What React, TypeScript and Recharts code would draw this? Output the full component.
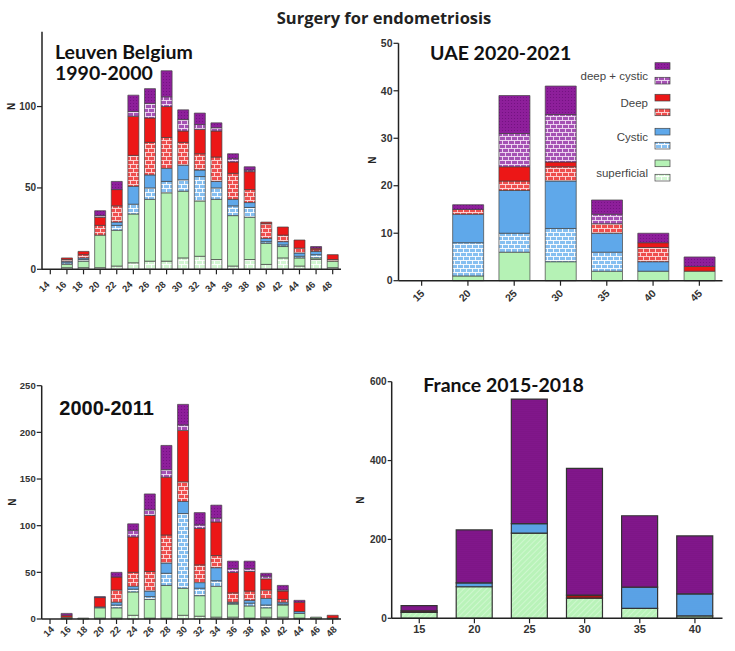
import React from 'react';
import { BarChart, Bar, XAxis, YAxis } from 'recharts';

// ---------- categories ----------
const AGES_2Y = ['14','16','18','20','22','24','26','28','30','32','34','36','38','40','42','44','46','48'];
const AGES_UAE = ['15','20','25','30','35','40','45'];
const AGES_FR = ['15','20','25','30','35','40'];

// ---------- Leuven Belgium 1990-2000 ----------
const LEU_SUP_P = [0,1,1,1,2,4,5,5,7,8,6,2,6,3,7,2,6,1];
const LEU_SUP   = [0,2,4,20,22,30,38,42,41,34,37,31,26,13,7,5,1,4];
const LEU_CYS_P = [0,1,1,0,3,6,7,7,7,15,7,6,6,1,1,1,2,0];
const LEU_CYS   = [0,1,1,0,2,11,8,8,9,4,4,4,3,2,2,2,2,0];
const LEU_DEEP_P= [0,1,2,6,10,19,20,19,14,10,15,16,8,9,4,3,1,1];
const LEU_DEEP  = [0,1,2,5,10,24,15,19,7,15,16,7,11,1,5,5,1,3];
const LEU_DC_P  = [0,0,0,1,0,3,9,6,7,3,2,2,1,0,0,0,0,0];
const LEU_DC    = [0,0,0,3,5,10,9,16,6,7,3,3,2,0,0,0,1,0];

// ---------- Leuven 2000-2011 ----------
const L2_SUP_P = [0,1,0,1,1,4,1,1,4,3,2,2,1,2,2,1,1,0];
const L2_SUP   = [0,1,1,11,11,25,20,35,29,22,33,14,13,10,13,5,1,1];
const L2_CYS_P = [0,0,0,0,3,3,3,13,80,8,6,1,3,3,1,0,0,0];
const L2_CYS   = [0,0,0,1,3,3,6,11,13,6,14,1,3,7,2,2,0,0];
const L2_DEEP_P= [0,0,0,0,13,15,21,30,21,19,13,10,10,9,3,0,0,0];
const L2_DEEP  = [0,2,0,10,14,38,60,62,55,39,36,22,21,12,9,10,0,3];
const L2_DC_P  = [0,0,0,0,0,7,6,8,6,4,4,4,3,3,1,0,0,0];
const L2_DC    = [0,2,0,1,5,7,17,26,22,13,14,8,8,3,5,2,0,0];

// ---------- UAE 2020-2021 ----------
const UAE_SUP_P = [0,0,0,0,0,0,0];
const UAE_SUP   = [0,1,6,4,2,2,2];
const UAE_CYS_P = [0,7,4,7,4,0,0];
const UAE_CYS   = [0,6,9,10,4,2,0];
const UAE_DEEP_P= [0,1,2,3,2,3,0];
const UAE_DEEP  = [0,0,3,1,0,1,1];
const UAE_DC_P  = [0,0,7,10,2,0,0];
const UAE_DC    = [0,1,8,6,3,2,2];

// ---------- France 2015-2018 ----------
const FR_SUP  = [15,80,216,51,25,6];
const FR_CYS  = [0,10,24,0,54,56];
const FR_DEEP = [4,0,0,8,0,0];
const FR_DC   = [13,134,316,321,181,147];

// ---------- tick labels ----------
const TICKS_LEU = [0, 50, 100];
const TICKS_L2 = [0, 50, 100, 150, 200, 250];
const TICKS_UAE = [0, 10, 20, 30, 40, 50];
const TICKS_FR = [0, 200, 400, 600];

const KEYS8 = ['supP','sup','cysP','cys','deepP','deep','dcP','dc'];
const FILLS8 = ['gB','gS','bB','bS','rB','rS','pB','pS'];

const build = (cats: string[], arrs: number[][], keys: string[]) =>
  cats.map((c, i) => {
    const o: any = { age: c };
    keys.forEach((k, j) => { o[k] = arrs[j][i]; });
    return o;
  });

const leuData = build(AGES_2Y, [LEU_SUP_P,LEU_SUP,LEU_CYS_P,LEU_CYS,LEU_DEEP_P,LEU_DEEP,LEU_DC_P,LEU_DC], KEYS8);
const l2Data = build(AGES_2Y, [L2_SUP_P,L2_SUP,L2_CYS_P,L2_CYS,L2_DEEP_P,L2_DEEP,L2_DC_P,L2_DC], KEYS8);
const uaeData = build(AGES_UAE, [UAE_SUP_P,UAE_SUP,UAE_CYS_P,UAE_CYS,UAE_DEEP_P,UAE_DEEP,UAE_DC_P,UAE_DC], KEYS8);
const frData = build(AGES_FR, [FR_SUP, FR_CYS, FR_DEEP, FR_DC], ['sup','cys','deep','dc']);

const AX = "'Liberation Sans', Arial, sans-serif";
const TITLE_FONT = "Lato, 'Open Sans', sans-serif";

const Brick = ({ id, base, line = '#ffffff' }: any) => (
  <pattern id={id} width={6} height={8} patternUnits="userSpaceOnUse">
    <rect width={6} height={8} fill={base} />
    <path d="M0 0.5H6M0 4.5H6M1.5 0.5V4.5M4.5 4.5V8.5" stroke={line} strokeWidth={0.9} fill="none" />
  </pattern>
);
const Dots = ({ id, base, dot, size = 3, r = 0.6 }: any) => (
  <pattern id={id} width={size} height={size} patternUnits="userSpaceOnUse">
    <rect width={size} height={size} fill={base} />
    <circle cx={size / 2} cy={size / 2} r={r} fill={dot} />
  </pattern>
);
const Hatch = ({ id, base, line }: any) => (
  <pattern id={id} width={4} height={4} patternUnits="userSpaceOnUse" patternTransform="rotate(45)">
    <rect width={4} height={4} fill={base} />
    <line x1={0} y1={0} x2={0} y2={4} stroke={line} strokeWidth={1.2} />
  </pattern>
);
const Plain = ({ id, color }: any) => (
  <pattern id={id} width={4} height={4} patternUnits="userSpaceOnUse">
    <rect width={4} height={4} fill={color} />
  </pattern>
);

const Defs = () => (
  <svg width={0} height={0} style={{ position: 'absolute' }}>
    <defs>
      <Plain id="gS" color="#b5f2b5" />
      <Brick id="gB" base="#d3f7d3" />
      <Plain id="bS" color="#5fa8ea" />
      <Brick id="bB" base="#86bff0" />
      <Plain id="rS" color="#ec1717" />
      <Brick id="rB" base="#ee4e4e" line="#ffdcdc" />
      <Dots id="pS" base="#8e1f9b" dot="#700f7e" />
      <Brick id="pB" base="#a552b4" line="#f3e0f6" />
      <Hatch id="fG" base="#b9f3b9" line="#dcfadc" />
      <Dots id="fB" base="#5ca4e8" dot="#4a8fd2" size={2} r={0.45} />
      <Dots id="fP" base="#8a1a93" dot="#5a0865" size={2} r={0.55} />
    </defs>
  </svg>
);

const makeRotTick = (dx: number, dy: number, fs: number) => (props: any) => {
  const { x, y, payload } = props;
  return (
    <g transform={`translate(${x + dx},${y + dy})`}>
      <text x={0} y={0} textAnchor="end" transform="rotate(-45)" fontSize={fs} fontWeight="bold" fill="#333" fontFamily={AX}>
        {payload.value}
      </text>
    </g>
  );
};

const axisLine = { stroke: '#222', strokeWidth: 1.5 };
const tickLine = { stroke: '#222', strokeWidth: 1.2 };
const yTick = (fs: number) => ({ fontSize: fs, fontWeight: 'bold', fill: '#333', fontFamily: AX });

const StackBars8 = () =>
  KEYS8.map((k, i) => (
    <Bar key={k} dataKey={k} stackId="s" fill={`url(#${FILLS8[i]})`} stroke="#444" strokeWidth={0.7} isAnimationActive={false} />
  ));

export default function App() {
  return (
    <div style={{ position: 'absolute', left: 0, top: 0, width: 735, height: 651, background: '#fff', overflow: 'hidden' }}>
      <Defs />
      {/* Leuven 1990-2000 */}
      <div style={{ position: 'absolute', left: 0, top: 0 }}>
        <BarChart width={360} height={330} data={leuData} margin={{ top: 31.7, right: 19, bottom: 20.7, left: 0 }} barCategoryGap="17%">
          <XAxis dataKey="age" interval={0} height={40} tickSize={5} tickMargin={0} axisLine={axisLine} tickLine={tickLine} tick={makeRotTick(0, 11, 9.5)} />
          <YAxis width={42} domain={[0, 146]} ticks={TICKS_LEU} tickSize={5} tickMargin={1} axisLine={axisLine} tickLine={tickLine} tick={yTick(10)} />
          {StackBars8()}
        </BarChart>
      </div>
      {/* UAE 2020-2021 */}
      <div style={{ position: 'absolute', left: 360, top: 0 }}>
        <BarChart width={375} height={330} data={uaeData} margin={{ top: 43.3, right: 12.5, bottom: 9.3, left: 0 }} barCategoryGap="17%">
          <XAxis dataKey="age" interval={0} height={40} tickSize={5} tickMargin={0} axisLine={axisLine} tickLine={tickLine} tick={makeRotTick(3.5, 8.3, 10.5)} />
          <YAxis width={38.5} domain={[0, 50]} ticks={TICKS_UAE} tickSize={5} tickMargin={1} axisLine={axisLine} tickLine={tickLine} tick={yTick(10.5)} />
          {StackBars8()}
        </BarChart>
      </div>
      {/* 2000-2011 */}
      <div style={{ position: 'absolute', left: 0, top: 330 }}>
        <BarChart width={360} height={321} data={l2Data} margin={{ top: 55.7, right: 19, bottom: 4, left: 0 }} barCategoryGap="17%">
          <XAxis dataKey="age" interval={0} height={28} tickSize={5} tickMargin={0} axisLine={axisLine} tickLine={tickLine} tick={makeRotTick(4.8, 6, 9.5)} />
          <YAxis width={41.7} domain={[0, 250]} ticks={TICKS_L2} tickSize={5} tickMargin={1} axisLine={axisLine} tickLine={tickLine} tick={yTick(9.5)} />
          {StackBars8()}
        </BarChart>
      </div>
      {/* France 2015-2018 */}
      <div style={{ position: 'absolute', left: 360, top: 330 }}>
        <BarChart width={375} height={321} data={frData} margin={{ top: 51.7, right: 12.5, bottom: 4.7, left: 0 }} barCategoryGap="17%">
          <XAxis dataKey="age" interval={0} height={28} tickSize={5} tickMargin={2} axisLine={axisLine} tickLine={tickLine} tick={yTick(11)} />
          <YAxis width={31.7} domain={[0, 600]} ticks={TICKS_FR} tickSize={4} tickMargin={1} axisLine={axisLine} tickLine={tickLine} tick={yTick(10)} />
          <Bar dataKey="sup" stackId="s" fill="url(#fG)" stroke="#333" strokeWidth={1.2} isAnimationActive={false} />
          <Bar dataKey="cys" stackId="s" fill="url(#fB)" stroke="#333" strokeWidth={1.2} isAnimationActive={false} />
          <Bar dataKey="deep" stackId="s" fill="#a81515" stroke="#333" strokeWidth={1.2} isAnimationActive={false} />
          <Bar dataKey="dc" stackId="s" fill="url(#fP)" stroke="#333" strokeWidth={1.2} isAnimationActive={false} />
        </BarChart>
      </div>
      {/* titles, axis names and legend */}
      <svg width={735} height={651} style={{ position: 'absolute', left: 0, top: 0, pointerEvents: 'none' }}>
        <text x={384} y={23.5} textAnchor="middle" fontFamily="'Open Sans', sans-serif" fontWeight="bold" fontSize={16.5} fill="#222">Surgery for endometriosis</text>
        <text x={55} y={58.5} fontFamily={TITLE_FONT} fontWeight="bold" fontSize={19.5} fill="#111">Leuven Belgium</text>
        <text x={55} y={80} fontFamily={TITLE_FONT} fontWeight="bold" fontSize={19.5} fill="#111">1990-2000</text>
        <text x={430} y={60} fontFamily={TITLE_FONT} fontWeight="bold" fontSize={19.5} fill="#111">UAE 2020-2021</text>
        <text x={59.3} y={415} fontFamily={AX} fontWeight="bold" fontSize={20} fill="#111">2000-2011</text>
        <text x={423.3} y={391.7} fontFamily={TITLE_FONT} fontWeight="bold" fontSize={19.5} fill="#111">France 2015-2018</text>
        {[[11.7, 106.5], [372, 160], [12, 502], [360, 500]].map(([x, y], i) => (
          <text key={i} x={x} y={y} transform={`rotate(-90 ${x} ${y})`} textAnchor="middle" dominantBaseline="central" fontFamily={AX} fontWeight="bold" fontSize={10} fill="#222">N</text>
        ))}
        {[['pS', 62.7], ['pB', 77.3], ['rS', 94.3], ['rB', 109], ['bS', 128.3], ['bB', 142.3], ['gS', 160], ['gB', 174.3]].map(([f, y]) => (
          <rect key={f as string} x={655} y={y as number} width={15} height={6.7} fill={`url(#${f})`} stroke="#444" strokeWidth={0.7} />
        ))}
        <text x={648} y={80} textAnchor="end" fontFamily={AX} fontSize={11.5} fill="#444">deep + cystic</text>
        <text x={648} y={107.3} textAnchor="end" fontFamily={AX} fontSize={11.5} fill="#444">Deep</text>
        <text x={648} y={141} textAnchor="end" fontFamily={AX} fontSize={11.5} fill="#444">Cystic</text>
        <text x={648} y={177} textAnchor="end" fontFamily={AX} fontSize={11.5} fill="#444">superficial</text>
      </svg>
    </div>
  );
}
